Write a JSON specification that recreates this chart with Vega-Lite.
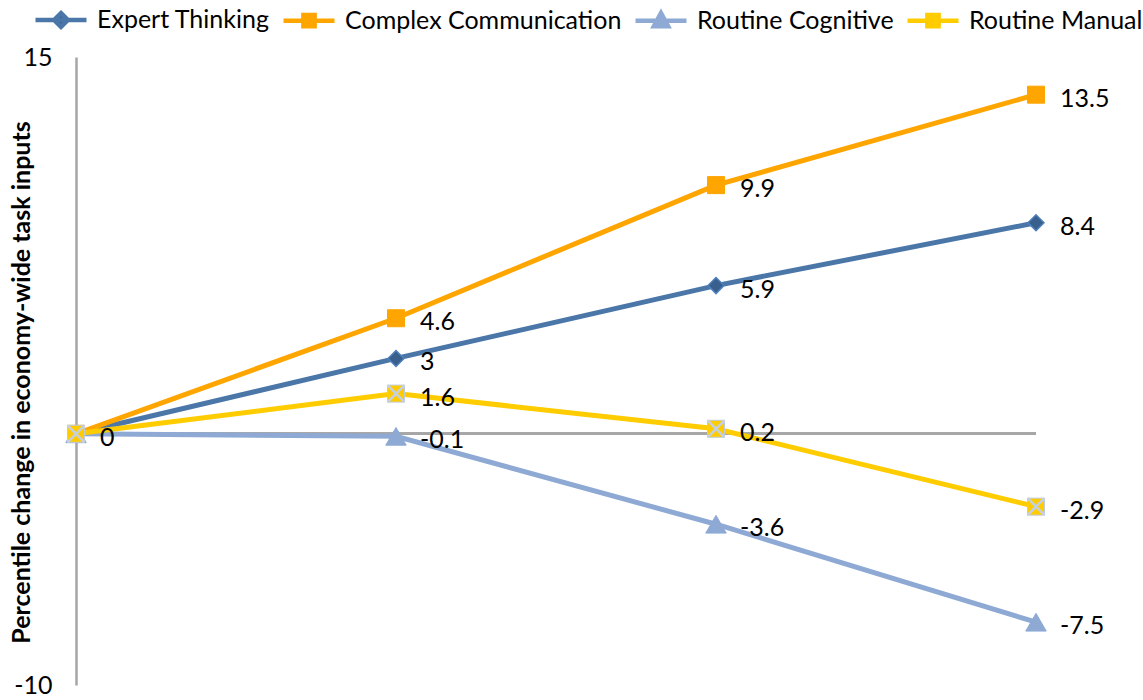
{
  "$schema": "https://vega.github.io/schema/vega-lite/v6.json",
  "width": 960,
  "height": 628,
  "autosize": "none",
  "padding": {"left": 76, "top": 57, "right": 107, "bottom": 15},
  "config": {"view": {"stroke": null}, "font": "Lato"},
  "data": {
    "values": [
      {"series": "Expert Thinking", "x": 0, "value": 0},
      {"series": "Expert Thinking", "x": 1, "value": 3},
      {"series": "Expert Thinking", "x": 2, "value": 5.9},
      {"series": "Expert Thinking", "x": 3, "value": 8.4},
      {"series": "Complex Communication", "x": 0, "value": 0},
      {"series": "Complex Communication", "x": 1, "value": 4.6},
      {"series": "Complex Communication", "x": 2, "value": 9.9},
      {"series": "Complex Communication", "x": 3, "value": 13.5},
      {"series": "Routine Cognitive", "x": 0, "value": 0},
      {"series": "Routine Cognitive", "x": 1, "value": -0.1},
      {"series": "Routine Cognitive", "x": 2, "value": -3.6},
      {"series": "Routine Cognitive", "x": 3, "value": -7.5},
      {"series": "Routine Manual", "x": 0, "value": 0},
      {"series": "Routine Manual", "x": 1, "value": 1.6},
      {"series": "Routine Manual", "x": 2, "value": 0.2},
      {"series": "Routine Manual", "x": 3, "value": -2.9}
    ]
  },
  "encoding": {
    "y": {
      "field": "value",
      "type": "quantitative",
      "scale": {"domain": [-10, 15], "nice": false, "zero": false},
      "axis": {
        "values": [-10, 15],
        "labelExpr": "'' + datum.value",
        "ticks": false,
        "grid": false,
        "domainColor": "#A6A6A6",
        "domainWidth": 2.5,
        "labelFontSize": 25,
        "labelColor": "#000000",
        "labelPadding": 24,
        "title": "Percentile change in economy-wide task inputs",
        "titleFontSize": 25,
        "titleFontWeight": "bold",
        "titleColor": "#000000",
        "titleX": -55,
        "titleY": 325,
        "titleAngle": -90,
        "titleAlign": "center",
        "titleBaseline": "middle"
      }
    }
  },
  "layer": [
    {
      "mark": {"type": "rule", "color": "#A6A6A6", "strokeWidth": 2},
      "encoding": {"y": {"datum": 0}}
    },
    {
      "mark": {"type": "line", "strokeWidth": 5},
      "encoding": {
        "x": {"field": "x", "type": "quantitative", "scale": {"domain": [0, 3], "nice": false}, "axis": null},
        "color": {
          "field": "series",
          "type": "nominal",
          "scale": {
            "domain": ["Expert Thinking", "Complex Communication", "Routine Cognitive", "Routine Manual"],
            "range": ["#4A76A8", "#FFA500", "#8EAAD4", "#FFCC00"]
          },
          "legend": {
            "orient": "none",
            "legendX": -43,
            "legendY": -65,
            "direction": "horizontal",
            "title": null,
            "labelFontSize": 25,
            "labelFont": "Lato",
            "labelColor": "#000000",
            "labelLimit": 0,
            "symbolSize": 2601,
            "labelOffset": 8,
            "columnPadding": 4,
            "encode": {
              "symbols": {
                "update": {
                  "shape": {"signal": "datum.value === 'Expert Thinking' ? 'M-1,0L1,0M0,-0.27L0.27,0L0,0.27L-0.27,0Z' : datum.value === 'Routine Cognitive' ? 'M-1,0L1,0M0,-0.3L0.28,0.22L-0.28,0.22Z' : 'M-1,0L1,0M-0.22,-0.22L0.22,-0.22L0.22,0.22L-0.22,0.22Z'"},
                  "fill": {"signal": "datum.value === 'Expert Thinking' ? '#395F8C' : datum.value === 'Complex Communication' ? '#FFA500' : datum.value === 'Routine Cognitive' ? '#8EAAD4' : '#FFCC00'"},
                  "stroke": {"signal": "datum.value === 'Expert Thinking' ? '#4A76A8' : datum.value === 'Complex Communication' ? '#FFA500' : datum.value === 'Routine Cognitive' ? '#8EAAD4' : '#FFCC00'"},
                  "strokeWidth": {"value": 4.5},
                  "opacity": {"value": 1}
                }
              }
            }
          }
        }
      }
    },
    {
      "transform": [{"filter": "datum.series === 'Expert Thinking'"}],
      "mark": {"type": "point", "shape": "diamond", "filled": true, "size": 256, "fill": "#395F8C", "stroke": "#4F81BD", "strokeWidth": 1.5, "opacity": 1},
      "encoding": {"x": {"field": "x", "type": "quantitative"}}
    },
    {
      "transform": [{"filter": "datum.series === 'Complex Communication'"}],
      "mark": {"type": "point", "shape": "square", "filled": true, "size": 289, "fill": "#FFA500", "stroke": "#FFA500", "strokeWidth": 1, "opacity": 1},
      "encoding": {"x": {"field": "x", "type": "quantitative"}}
    },
    {
      "transform": [{"filter": "datum.series === 'Routine Cognitive'"}],
      "mark": {"type": "point", "shape": "triangle-up", "filled": true, "size": 420, "fill": "#8EAAD4", "stroke": "#8EAAD4", "strokeWidth": 1, "opacity": 1},
      "encoding": {"x": {"field": "x", "type": "quantitative"}}
    },
    {
      "transform": [{"filter": "datum.series === 'Routine Manual'"}],
      "mark": {"type": "point", "shape": "square", "filled": true, "size": 289, "fill": "#FFCC00", "stroke": "#BFCBDC", "strokeWidth": 1, "opacity": 1},
      "encoding": {"x": {"field": "x", "type": "quantitative"}}
    },
    {
      "transform": [{"filter": "datum.series === 'Routine Manual'"}],
      "mark": {"type": "point", "shape": "M-1,-1L1,1M-1,1L1,-1", "filled": false, "size": 289, "stroke": "#C5D0E0", "strokeWidth": 2.5, "opacity": 1},
      "encoding": {"x": {"field": "x", "type": "quantitative"}}
    },
    {
      "transform": [{"filter": "datum.x > 0 || datum.series === 'Expert Thinking'"}],
      "mark": {"type": "text", "align": "left", "baseline": "middle", "dx": 24, "dy": 4, "fontSize": 25, "font": "Lato", "color": "#000000"},
      "encoding": {
        "x": {"field": "x", "type": "quantitative"},
        "text": {"field": "value", "type": "nominal"}
      }
    }
  ]
}
